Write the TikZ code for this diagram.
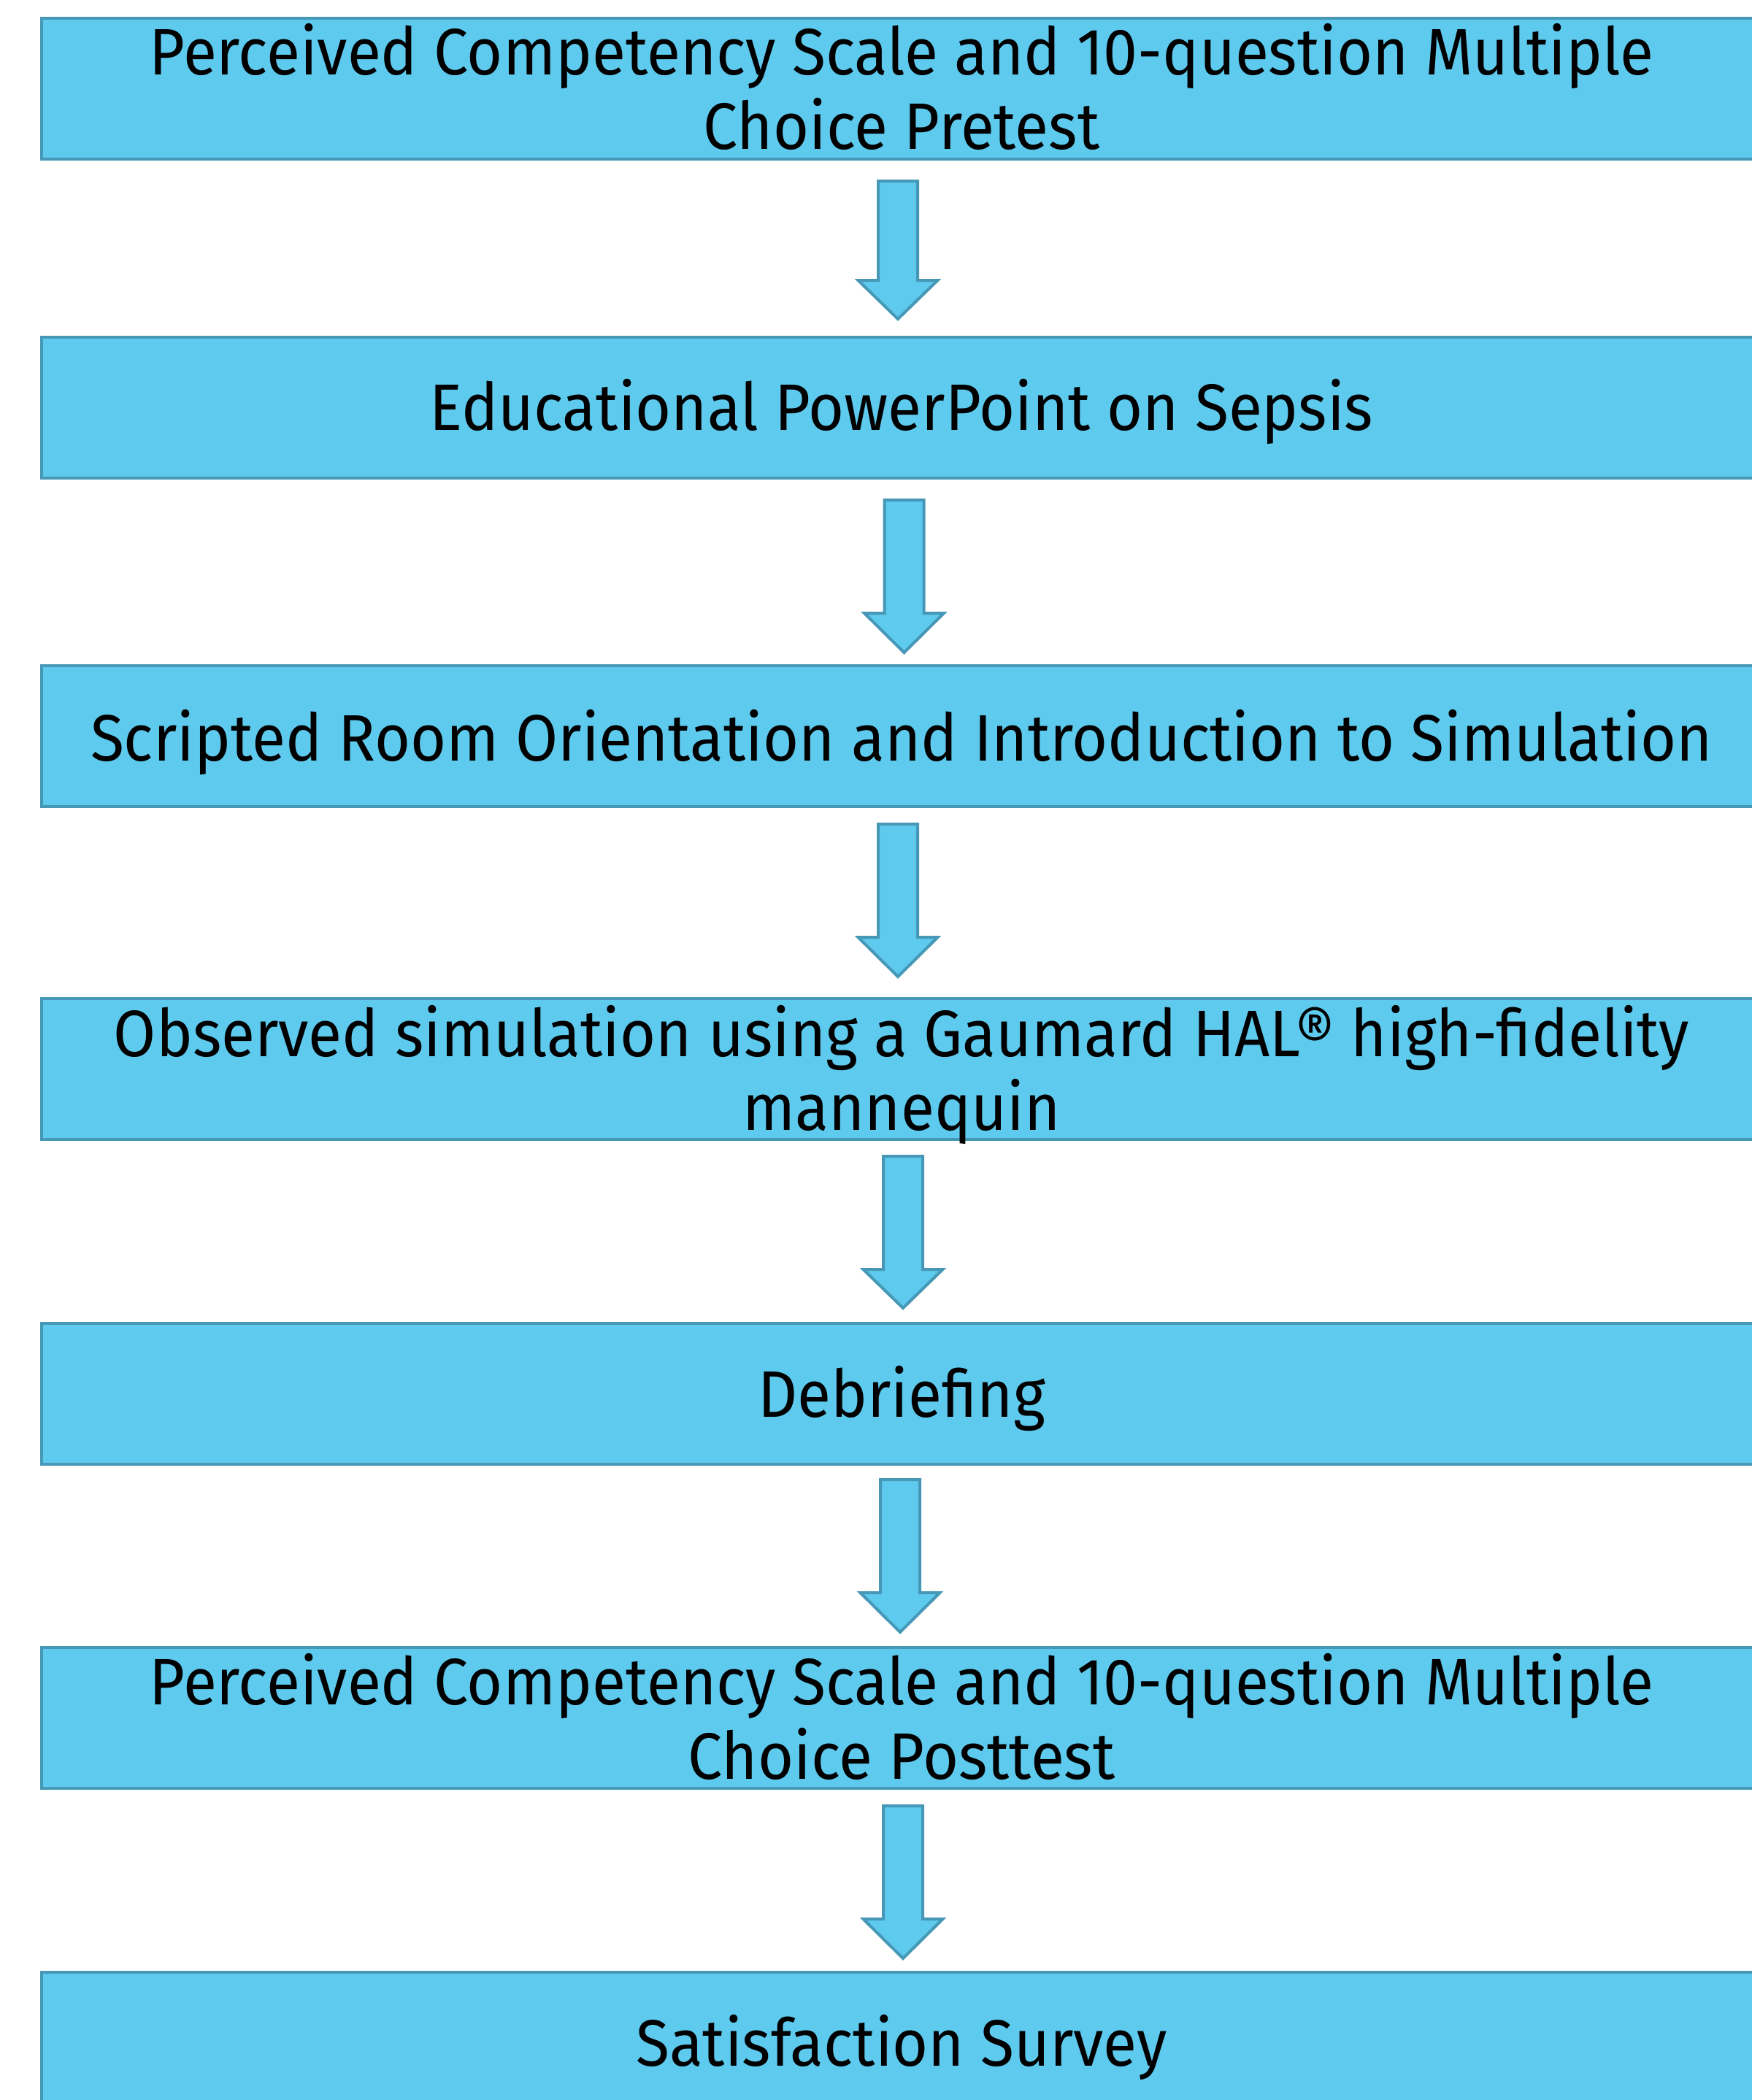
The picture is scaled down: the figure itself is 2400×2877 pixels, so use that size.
\documentclass[tikz,border=0pt]{standalone}
\usepackage{fontspec}
\setmainfont[FakeStretch=0.935]{Fira Sans}
\usetikzlibrary{calc}
\definecolor{boxfill}{RGB}{94,202,238}
\definecolor{boxline}{RGB}{70,152,182}
\tikzset{
  stage/.style={draw=boxline, fill=boxfill, line width=2pt, inner sep=0pt, minimum width=1178pt, minimum height=96.5pt},
  lbl/.style={anchor=base, inner sep=0pt, font=\fontsize{45}{54}\selectfont},
  blk/.style={draw=boxline, fill=boxfill, line width=2pt, line join=miter}
}
\newcommand\blkarrow[4]{%
  \draw[blk] (#1-27,#2) -- (#1+27,#2) -- (#1+27,#3) -- (#1+54.5,#3) -- (#1,#4) -- (#1-54.5,#3) -- (#1-27,#3) -- cycle;}
\begin{document}
\begin{tikzpicture}[x=0.5pt,y=-0.5pt]
\useasboundingbox (0,0) rectangle (2400,2877);
\clip (0,0) rectangle (2400,2877);
\fill[white] (0,0) rectangle (2400,2877);
% boxes
\node[stage] (b1) at (1235,121) {};
\node[stage] (b2) at (1235,558) {};
\node[stage] (b3) at (1235,1008.5) {};
\node[stage] (b4) at (1235,1464.5) {};
\node[stage] (b5) at (1235,1909.5) {};
\node[stage] (b6) at (1235,2353.5) {};
\node[stage] (b7) at (1235,2798.5) {};
% texts
\node[lbl] (t1a) at (1235,102) {Perceived Competency Scale and 10-question Multiple};
\node[lbl] (t1b) at (1235,204) {Choice Pretest};
\node[lbl] (t2) at (1235,589) {Educational PowerPoint on Sepsis};
\node[lbl] (t3) at (1235,1042) {Scripted Room Orientation and Introduction to Simulation};
\node[lbl] (t4a) at (1235,1447) {Observed simulation using a Gaumard HAL® high-fidelity};
\node[lbl] (t4b) at (1235,1548) {mannequin};
\node[lbl] (t5) at (1235,1941) {Debriefing};
\node[lbl] (t6a) at (1235,2335) {Perceived Competency Scale and 10-question Multiple};
\node[lbl] (t6b) at (1235,2437) {Choice Posttest};
\node[lbl] (t7) at (1235,2830) {Satisfaction Survey};
% block arrows between the stages
\blkarrow{1230}{248}{384}{437}
\blkarrow{1238.5}{685}{840}{894}
\blkarrow{1230}{1129}{1284}{1338}
\blkarrow{1237}{1584}{1739}{1792}
\blkarrow{1233}{2027}{2182}{2236}
\blkarrow{1237}{2474}{2629}{2683}
\end{tikzpicture}
\end{document}
